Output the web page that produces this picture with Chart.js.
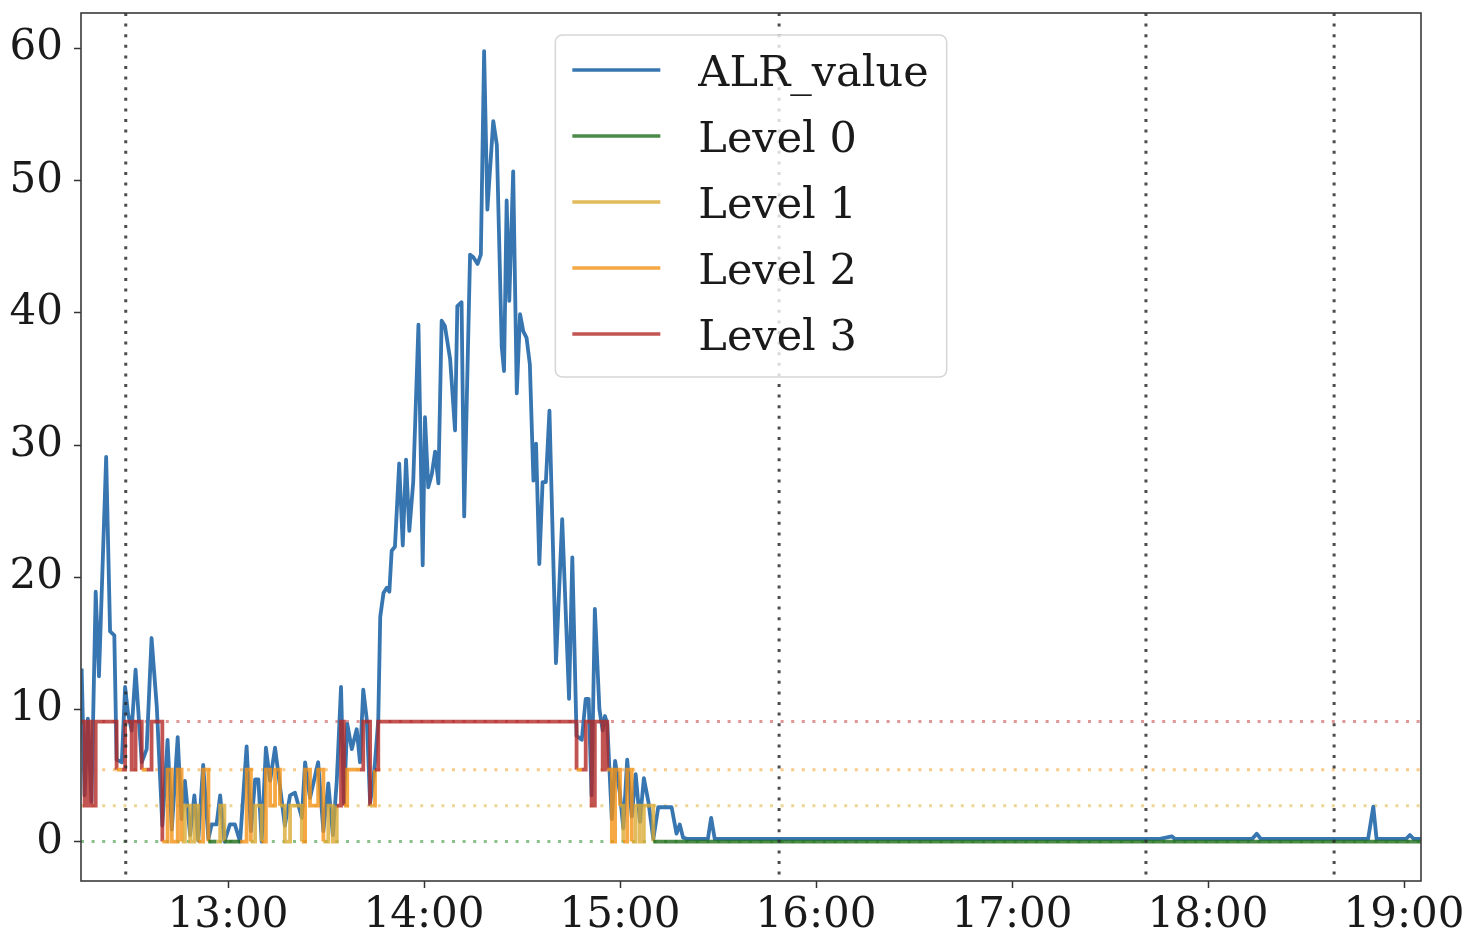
<!DOCTYPE html>
<html>
<head>
<meta charset="utf-8">
<script src="https://cdn.jsdelivr.net/npm/chart.js@4.4.0/dist/chart.umd.min.js"></script>
<style>
  html, body { margin: 0; padding: 0; background: #fff; }
  #wrap { width: 1470px; height: 940px; }
</style>
</head>
<body>
<div id="wrap"><canvas id="alrChart" width="1470" height="940"></canvas></div>
<script>
// time of each sample, in minutes after midnight
const alrTimes = [
  735.2, 736.1, 737.1, 738.2, 739.5, 740.5, 742.7, 743.9, 745.2, 745.9,
  747.5, 748.5, 749.4, 750.5, 751.7, 753.6, 755.1, 756.6, 758.2, 759.9,
  761.5, 762.8, 764.6, 765.8, 766.8, 768.4, 769.7, 770.9, 772.4, 774.0,
  775.0, 776.5, 777.6, 778.9, 780.6, 782.1, 783.7, 785.7, 787.0, 788.3,
  789.3, 790.3, 791.6, 792.9, 794.4, 795.9, 797.4, 799.0, 800.5, 802.6,
  803.6, 805.1, 807.6, 809.2, 810.7, 812.1, 813.3, 814.6, 815.5, 816.5,
  817.9, 819.4, 820.4, 821.4, 822.5, 823.5, 824.5, 825.0, 826.0, 826.6,
  827.6, 828.6, 829.4, 830.1, 831.1, 832.4, 833.5, 834.5, 835.5, 836.7,
  838.3, 839.6, 840.3, 841.3, 842.4, 843.4, 844.4, 845.4, 846.4, 848.0,
  849.5, 850.2, 851.5, 852.3, 854.1, 855.1, 856.4, 857.4, 858.4, 859.4,
  861.2, 862.3, 863.8, 864.5, 865.3, 866.1, 867.3, 868.4, 869.4, 870.4,
  871.4, 872.4, 873.5, 874.3, 875.3, 876.3, 877.3, 878.4, 880.4, 882.3,
  884.4, 885.4, 886.7, 888.3, 889.5, 890.4, 891.3, 892.3, 893.7, 894.7,
  895.4, 896.1, 897.5, 898.5, 900.0, 901.0, 902.2, 903.6, 904.8, 906.1,
  907.3, 908.7, 910.2, 911.7, 914.3, 915.8, 917.3, 918.3, 919.3, 920.7,
  926.9, 927.9, 929.0, 1065.3, 1068.9, 1069.9, 1093.5, 1094.9, 1096.2, 1129.0,
  1130.6, 1131.6, 1140.6, 1141.8, 1143.0, 1145.2
];
const alrValues = [
  13.1, 3.5, 9.3, 3.0, 18.9, 12.5, 29.1, 15.9, 15.6, 6.2,
  6.0, 11.7, 9.7, 8.4, 13.0, 6.0, 7.0, 15.4, 10.2, 1.2,
  7.7, 0.9, 7.9, 1.7, 4.6, 0.5, 3.5, 0.1, 5.8, 0.2,
  1.3, 1.3, 3.5, 0.0, 1.3, 1.3, 0.0, 7.2, 0.8, 4.7,
  4.7, 0.0, 7.1, 4.6, 7.1, 4.2, 1.2, 3.5, 3.7, 1.8,
  6.0, 3.3, 6.0, 0.8, 4.4, 0.5, 4.6, 11.7, 2.9, 8.9,
  7.0, 8.5, 6.0, 11.5, 9.2, 2.9, 4.7, 6.0, 9.2, 17.0,
  18.8, 19.2, 18.9, 22.0, 22.3, 28.6, 22.4, 28.9, 23.5, 27.2,
  39.1, 20.9, 32.1, 26.8, 27.8, 29.5, 27.1, 39.4, 39.0, 36.5,
  31.1, 40.5, 40.8, 24.6, 44.4, 44.2, 43.7, 44.4, 59.8, 47.8,
  54.5, 52.7, 37.4, 35.6, 48.5, 40.9, 50.7, 33.9, 39.9, 38.6,
  38.1, 36.1, 27.3, 30.1, 21.0, 27.2, 27.2, 32.6, 13.5, 24.4,
  10.8, 21.5, 8.0, 7.7, 10.8, 10.8, 3.5, 17.6, 10.0, 8.4,
  9.5, 8.9, 1.7, 6.1, 3.6, 1.0, 6.2, 1.9, 5.1, 1.5,
  4.8, 3.0, 0.2, 2.6, 2.6, 2.6, 0.6, 1.3, 0.3, 0.2,
  0.2, 1.8, 0.2, 0.2, 0.4, 0.2, 0.2, 0.6, 0.2, 0.2,
  2.65, 0.2, 0.2, 0.5, 0.2, 0.2
];

const levelNames = ['Level 0', 'Level 1', 'Level 2', 'Level 3'];
const levelThresholds = [0, 2.72, 5.44, 9.08];
const levelColors = ['rgba(30,110,25,0.8)', 'rgba(217,170,51,0.8)', 'rgba(242,146,21,0.8)', 'rgba(179,41,39,0.8)'];
const levelDotColors = ['rgba(60,150,60,0.6)', 'rgba(225,185,80,0.6)', 'rgba(245,165,60,0.6)', 'rgba(200,80,80,0.6)'];
const alrColor = 'rgb(55,118,176)';

// dotted vertical markers (minutes after midnight)
const eventTimes = [748.7, 948.7, 1061.0, 1118.6];
const hourTicks = [780, 840, 900, 960, 1020, 1080, 1140];
const yTicks = [0, 10, 20, 30, 40, 50, 60];
const xRange = [735.0, 1145.2];
const yRange = [-2.98, 62.68];

const FONT = 'DejaVu Serif';

// level of each sample: highest threshold it reaches
const levelIndex = alrValues.map(v => {
  let k = 0;
  levelThresholds.forEach((t, i) => { if (v >= t) k = i; });
  return k;
});
const levelValues = levelIndex.map(k => levelThresholds[k]);

function fmtTime(v) {
  const h = Math.floor(v / 60);
  const m = Math.round(v - h * 60);
  return h + ':' + String(m).padStart(2, '0');
}

const decor = {
  id: 'decor',
  beforeDatasetsDraw(chart) {
    const { ctx, chartArea: a, scales: { y } } = chart;
    ctx.save();
    ctx.lineWidth = 3;
    ctx.setLineDash([3, 7.6]);
    levelThresholds.forEach((t, i) => {
      const py = y.getPixelForValue(t);
      ctx.strokeStyle = levelDotColors[i];
      ctx.beginPath();
      ctx.moveTo(a.left, py);
      ctx.lineTo(a.right, py);
      ctx.stroke();
    });
    ctx.restore();
  },
  afterDatasetsDraw(chart) {
    const { ctx, chartArea: a, scales: { x } } = chart;
    ctx.save();
    ctx.lineWidth = 3;
    ctx.setLineDash([3, 7.6]);
    ctx.strokeStyle = 'rgba(45,45,45,0.85)';
    eventTimes.forEach(t => {
      const px = x.getPixelForValue(t);
      ctx.beginPath();
      ctx.moveTo(px, a.top);
      ctx.lineTo(px, a.bottom);
      ctx.stroke();
    });
    ctx.setLineDash([]);
    ctx.lineWidth = 1.6;
    ctx.strokeStyle = '#3a3a3a';
    ctx.strokeRect(a.left, a.top, a.right - a.left, a.bottom - a.top);
    ctx.restore();
  },
  afterDraw(chart) {
    const { ctx, chartArea: a } = chart;
    const labels = ['ALR_value'].concat(levelNames);
    const colors = [alrColor].concat(levelColors);
    ctx.save();
    ctx.font = '43px "' + FONT + '"';
    const textW = Math.max(...labels.map(s => ctx.measureText(s).width));
    const w = 143 + textW + 18;
    const h = 35 + (labels.length - 1) * 66 + 43;
    const left = (a.left + a.right) / 2 - w / 2;
    const top = a.top + 22;
    ctx.beginPath();
    ctx.roundRect(left, top, w, h, 7);
    ctx.fillStyle = 'rgba(255,255,255,0.8)';
    ctx.fill();
    ctx.lineWidth = 1.5;
    ctx.strokeStyle = '#d6d6d6';
    ctx.stroke();
    labels.forEach((s, i) => {
      const cy = top + 35 + i * 66;
      ctx.strokeStyle = colors[i];
      ctx.lineWidth = 3.6;
      ctx.beginPath();
      ctx.moveTo(left + 17, cy);
      ctx.lineTo(left + 105, cy);
      ctx.stroke();
      ctx.fillStyle = '#1a1a1a';
      ctx.textBaseline = 'alphabetic';
      ctx.fillText(s, left + 143, cy + 16);
    });
    ctx.restore();
  }
};

new Chart(document.getElementById('alrChart'), {
  type: 'line',
  data: {
    datasets: [
      {
        label: 'Level',
        data: alrTimes.map((t, i) => ({ x: t, y: levelValues[i] })),
        stepped: true,
        borderWidth: 3.8,
        pointRadius: 0,
        fill: false,
        order: 1,
        segment: {
          borderColor: c => levelColors[Math.max(levelIndex[c.p0DataIndex], levelIndex[c.p1DataIndex])]
        }
      },
      {
        label: 'ALR_value',
        data: alrTimes.map((t, i) => ({ x: t, y: alrValues[i] })),
        borderColor: alrColor,
        borderWidth: 3.8,
        borderJoinStyle: 'round',
        pointRadius: 0,
        tension: 0,
        fill: false,
        order: 2
      }
    ]
  },
  options: {
    responsive: false,
    animation: false,
    devicePixelRatio: 1,
    layout: { padding: { top: 13, right: 49, left: 0, bottom: 0 } },
    plugins: { legend: { display: false }, tooltip: { enabled: false } },
    scales: {
      x: {
        type: 'linear',
        min: xRange[0],
        max: xRange[1],
        afterBuildTicks: s => { s.ticks = hourTicks.map(v => ({ value: v })); },
        afterFit: s => { s.height = 59; s.paddingLeft = 0; s.paddingRight = 0; },
        ticks: {
          autoSkip: false, maxRotation: 0, padding: 3, color: '#1a1a1a',
          font: { family: FONT, size: 42 },
          callback: v => fmtTime(v)
        },
        grid: { drawOnChartArea: false, drawTicks: true, tickLength: 7, tickWidth: 1.5, color: '#333' },
        border: { display: false }
      },
      y: {
        type: 'linear',
        min: yRange[0],
        max: yRange[1],
        afterBuildTicks: s => { s.ticks = yTicks.map(v => ({ value: v })); },
        afterFit: s => { s.width = 81; s.paddingTop = 0; s.paddingBottom = 0; },
        ticks: { padding: 11, color: '#1a1a1a', font: { family: FONT, size: 42 } },
        grid: { drawOnChartArea: false, drawTicks: true, tickLength: 7, tickWidth: 1.5, color: '#333' },
        border: { display: false }
      }
    }
  },
  plugins: [decor]
});
</script>
</body>
</html>
